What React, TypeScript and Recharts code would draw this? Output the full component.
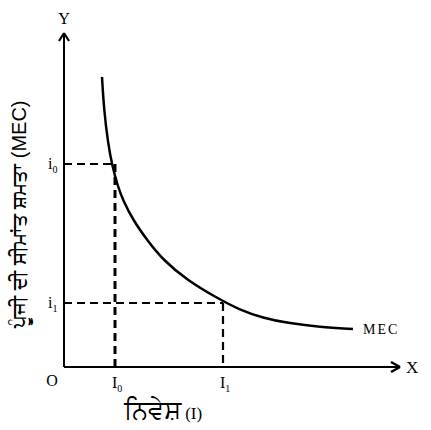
import { ComposedChart, Line, XAxis, YAxis, ReferenceLine, ReferenceDot, Label } from 'recharts'

// MEC curve (x = investment, y = rate)
const mecX = [38, 40, 44, 48, 54, 59, 69, 83, 99, 123, 153, 176, 199, 223, 256, 289]
const mecY = [290, 257, 224, 202, 180, 167, 147, 127, 107, 87, 69, 57, 49, 44, 40, 38]

// interest levels and matching investment
const rateTicks = [64, 203]
const rateSubs = ['1', '0']
const investTicks = [0, 51, 159]
const investSubs = ['', '0', '1']

const X_MAX = 336
const Y_MAX = 334

const data = mecX.map((x, i) => ({ x, y: mecY[i] }))

const serif = '"Liberation Serif", "Times New Roman", serif'
const sans = '"Liberation Sans", Arial, "Noto Sans", sans-serif'

function RateTick({ y, payload }: any) {
  const idx = rateTicks.indexOf(payload.value)
  return (
    <text x={48} y={y + 5} fontFamily={serif} fontSize={16} fill="#000">
      i<tspan fontSize={10} dy={4}>{rateSubs[idx]}</tspan>
    </text>
  )
}

function InvestTick({ x, payload }: any) {
  const idx = investTicks.indexOf(payload.value)
  if (payload.value === 0) {
    return (
      <text x={52} y={386} textAnchor="middle" fontFamily={serif} fontSize={16} fill="#000">
        O
      </text>
    )
  }
  return (
    <text x={x - 3} y={388} fontFamily={serif} fontSize={16} fill="#000">
      I<tspan fontSize={10} dy={4}>{investSubs[idx]}</tspan>
    </text>
  )
}

export default function App() {
  return (
    <div style={{ position: 'absolute', left: 0, top: 0, background: '#fff' }}>
      <ComposedChart
        width={431}
        height={430}
        data={data}
        margin={{ top: 33, right: 31, bottom: 0, left: 0 }}
      >
        <XAxis
          dataKey="x"
          type="number"
          domain={[0, X_MAX]}
          ticks={investTicks}
          tick={<InvestTick />}
          tickLine={false}
          height={63}
          axisLine={{ stroke: '#000', strokeWidth: 2 }}
          allowDataOverflow
        >
          <Label
            content={() => (
              <text x={163} y={419} textAnchor="middle" fill="#000">
                <tspan fontFamily={sans} fontSize={26}>ਨਿਵੇਸ਼</tspan>
                <tspan fontFamily={serif} fontSize={17}> (I)</tspan>
              </text>
            )}
          />
        </XAxis>
        <YAxis
          type="number"
          domain={[0, Y_MAX]}
          ticks={rateTicks}
          tick={<RateTick />}
          tickLine={false}
          width={64}
          axisLine={{ stroke: '#000', strokeWidth: 2 }}
          allowDataOverflow
        >
          <Label
            content={() => (
              <text
                x={19}
                y={214}
                textAnchor="middle"
                dominantBaseline="central"
                transform="rotate(-90 19 214)"
                fontFamily={sans}
                fontSize={20}
                fill="#000"
              >
                ਪੂੰਜੀ ਦੀ ਸੀਮਾਂਤ ਸ਼ਮਤਾ (MEC)
              </text>
            )}
          />
        </YAxis>

        {/* dashed guides */}
        <ReferenceLine segment={[{ x: 0, y: rateTicks[1] }, { x: investTicks[1], y: rateTicks[1] }]} stroke="#000" strokeWidth={2.2} strokeDasharray="8 5" />
        <ReferenceLine segment={[{ x: investTicks[1], y: rateTicks[1] }, { x: investTicks[1], y: 0 }]} stroke="#000" strokeWidth={3} strokeDasharray="8 5" />
        <ReferenceLine segment={[{ x: 0, y: rateTicks[0] }, { x: investTicks[2], y: rateTicks[0] }]} stroke="#000" strokeWidth={2.2} strokeDasharray="8 5" />
        <ReferenceLine segment={[{ x: investTicks[2], y: rateTicks[0] }, { x: investTicks[2], y: 0 }]} stroke="#000" strokeWidth={2.2} strokeDasharray="8 5" />

        {/* axis arrows */}
        <ReferenceLine segment={[{ x: -5, y: Y_MAX - 8 }, { x: 0, y: Y_MAX }]} stroke="#000" strokeWidth={2} ifOverflow="visible" />
        <ReferenceLine segment={[{ x: 5, y: Y_MAX - 8 }, { x: 0, y: Y_MAX }]} stroke="#000" strokeWidth={2} ifOverflow="visible" />
        <ReferenceLine segment={[{ x: X_MAX - 9, y: 5 }, { x: X_MAX, y: 0 }]} stroke="#000" strokeWidth={2.5} ifOverflow="visible" />
        <ReferenceLine segment={[{ x: X_MAX - 9, y: -5 }, { x: X_MAX, y: 0 }]} stroke="#000" strokeWidth={2.5} ifOverflow="visible" />

        <Line
          dataKey="y"
          type="basis"
          stroke="#000"
          strokeWidth={2.5}
          dot={false}
          isAnimationActive={false}
        />

        <ReferenceDot x={0} y={Y_MAX} r={0} ifOverflow="visible"
          label={{ value: 'Y', position: 'top', offset: 9, fontFamily: serif, fontSize: 16, fill: '#000' }} />
        <ReferenceDot x={X_MAX} y={0} r={0} ifOverflow="visible"
          label={{ value: 'X', position: 'right', offset: 6, fontFamily: serif, fontSize: 17, fill: '#000' }} />
        <ReferenceDot x={mecX[mecX.length - 1]} y={mecY[mecY.length - 1]} r={0} ifOverflow="visible"
          label={{ value: 'MEC', position: 'right', offset: 10, fontFamily: serif, fontSize: 14, letterSpacing: 2, fill: '#000' }} />
      </ComposedChart>
    </div>
  )
}
